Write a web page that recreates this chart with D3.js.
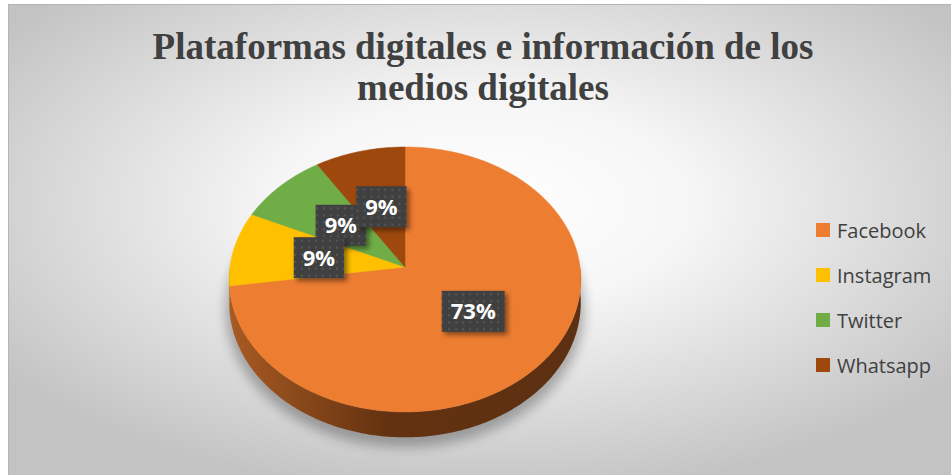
<!DOCTYPE html>
<html>
<head>
<meta charset="utf-8">
<script src="https://cdn.jsdelivr.net/npm/d3@7"></script>
<style>
  html, body { margin: 0; padding: 0; background: #fff; }
  svg { display: block; }
</style>
</head>
<body>
<div id="chart"></div>
<script>
// Data
const categories = ['Facebook', 'Instagram', 'Twitter', 'Whatsapp']
const values = [8, 1, 1, 1]
const colors = ['#ED7D31', '#FFC000', '#70AD47', '#9E480E']
const titleLines = ['Plataformas digitales e información de los', 'medios digitales']

// Dimensions
const width = 951
const height = 475
const pieDims = { cx: 405, cy: 267, rx: 175, ry: 131.3, k: 0.094, depth: 23 }

const svg = d3.select('#chart')
  .append('svg')
  .attr('width', width)
  .attr('height', height)

const defs = svg.append('defs')

// background gradient
const bg = defs.append('radialGradient')
  .attr('id', 'bg')
  .attr('cx', '50%').attr('cy', '42%').attr('r', '62%')
bg.append('stop').attr('offset', '0%').attr('stop-color', '#ffffff')
bg.append('stop').attr('offset', '35%').attr('stop-color', '#f6f6f6')
bg.append('stop').attr('offset', '100%').attr('stop-color', '#c3c3c3')

// side gradient
const side = defs.append('linearGradient')
  .attr('id', 'side')
  .attr('gradientUnits', 'userSpaceOnUse')
  .attr('x1', pieDims.cx - pieDims.rx).attr('x2', pieDims.cx + pieDims.rx)
  .attr('y1', 0).attr('y2', 0)
side.append('stop').attr('offset', '0%').attr('stop-color', '#a85a22')
side.append('stop').attr('offset', '45%').attr('stop-color', '#633210')
side.append('stop').attr('offset', '100%').attr('stop-color', '#5c3012')

// label box pattern
const pat = defs.append('pattern')
  .attr('id', 'dots')
  .attr('patternUnits', 'userSpaceOnUse')
  .attr('width', 7).attr('height', 7)
pat.append('rect').attr('width', 7).attr('height', 7).attr('fill', '#404040')
pat.append('rect').attr('x', 3).attr('y', 3).attr('width', 2).attr('height', 2).attr('fill', '#575757')

const shadow = defs.append('filter').attr('id', 'shadow')
  .attr('x', '-20%').attr('y', '-20%').attr('width', '160%').attr('height', '160%')
shadow.append('feDropShadow')
  .attr('dx', 3).attr('dy', 3).attr('stdDeviation', 2.5)
  .attr('flood-color', '#000').attr('flood-opacity', 0.45)

const blur = defs.append('filter').attr('id', 'blur')
  .attr('x', '-20%').attr('y', '-20%').attr('width', '140%').attr('height', '140%')
blur.append('feGaussianBlur').attr('stdDeviation', 6)

// chart area
svg.append('rect')
  .attr('x', 8.5).attr('y', 4.5)
  .attr('width', width).attr('height', height)
  .attr('fill', 'url(#bg)')
  .attr('stroke', '#b5b5b5')

// Title
svg.append('text')
  .attr('text-anchor', 'middle')
  .attr('font-family', '"Liberation Serif", "Times New Roman", serif')
  .attr('font-weight', 'bold')
  .attr('font-size', 37)
  .attr('fill', '#404040')
  .selectAll('tspan')
  .data(titleLines)
  .join('tspan')
  .attr('x', 483)
  .attr('y', (d, i) => 59 + i * 41)
  .text(d => d)

// Scales
const colorScale = d3.scaleOrdinal().domain(categories).range(colors)
const pie = d3.pie().sort(null).value(d => d.value)
const arcs = pie(categories.map((c, i) => ({ name: c, value: values[i] })))

// perspective projection of the tilted disk
function proj(a, r, h) {
  const x3 = r * Math.sin(a)
  const z3 = -r * Math.cos(a)
  const s = 1 / (1 - pieDims.k * z3)
  return [pieDims.cx + pieDims.rx * x3 * s, pieDims.cy + pieDims.ry * z3 * s + h * s]
}
function arcPoints(a0, a1, r, h) {
  const n = Math.max(2, Math.ceil(Math.abs(a1 - a0) / (Math.PI / 180)))
  return d3.range(n + 1).map(i => proj(a0 + (a1 - a0) * i / n, r, h))
}
const line = d3.line()

const pieG = svg.append('g')

// soft shadow under the pie
pieG.append('path')
  .attr('d', line(arcPoints(0, 2 * Math.PI, 1.02, pieDims.depth + 6)) + 'Z')
  .attr('fill', '#000')
  .attr('opacity', 0.28)
  .attr('filter', 'url(#blur)')

// side walls (front half only)
arcs.forEach(d => {
  const a0 = Math.max(d.startAngle, Math.PI / 2)
  const a1 = Math.min(d.endAngle, 3 * Math.PI / 2)
  if (a1 <= a0) return
  const pts = arcPoints(a0, a1, 1, 0).concat(arcPoints(a1, a0, 1, pieDims.depth))
  pieG.append('path')
    .attr('d', line(pts) + 'Z')
    .attr('fill', d.data.name === 'Facebook' ? 'url(#side)' : d3.color(colorScale(d.data.name)).darker(1.2))
})

// top faces
pieG.selectAll('.slice')
  .data(arcs)
  .join('path')
  .attr('class', 'slice')
  .attr('d', d => line([proj(0, 0, 0)].concat(arcPoints(d.startAngle, d.endAngle, 1, 0))) + 'Z')
  .attr('fill', d => colorScale(d.data.name))
  .attr('stroke', d => colorScale(d.data.name))
  .attr('stroke-width', 0.5)

// Data labels (Twitter's box sits behind its neighbours)
const total = d3.sum(values)
const fmt = v => Math.round(v / total * 100) + '%'
const labelOrder = ['Twitter', 'Whatsapp', 'Instagram', 'Facebook']
const labelG = svg.append('g')
labelOrder.map(n => arcs.find(a => a.data.name === n)).forEach(d => {
  const mid = (d.startAngle + d.endAngle) / 2
  const [lx, ly] = proj(mid, 0.5, 0)
  const g = labelG.append('g').attr('transform', `translate(${lx},${ly})`)
  const rect = g.append('rect')
  const t = g.append('text')
    .attr('text-anchor', 'middle')
    .attr('y', 8)
    .attr('font-family', '"Open Sans", sans-serif')
    .attr('font-weight', 'bold')
    .attr('font-size', 22)
    .attr('fill', '#fff')
    .text(fmt(d.value))
  const w = t.node().getComputedTextLength() + 18
  rect.attr('x', -w / 2).attr('y', -20.5)
    .attr('width', w).attr('height', 41)
    .attr('fill', 'url(#dots)')
    .attr('filter', 'url(#shadow)')
})

// Legend
const legend = svg.append('g')
  .selectAll('g')
  .data(categories)
  .join('g')
  .attr('transform', (d, i) => `translate(816,${223 + i * 45})`)
legend.append('rect')
  .attr('width', 14).attr('height', 14)
  .attr('fill', d => colorScale(d))
legend.append('text')
  .attr('x', 21).attr('y', 14.5)
  .attr('font-family', '"Open Sans", sans-serif')
  .attr('font-size', 20)
  .attr('fill', '#404040')
  .text(d => d)
</script>
</body>
</html>
